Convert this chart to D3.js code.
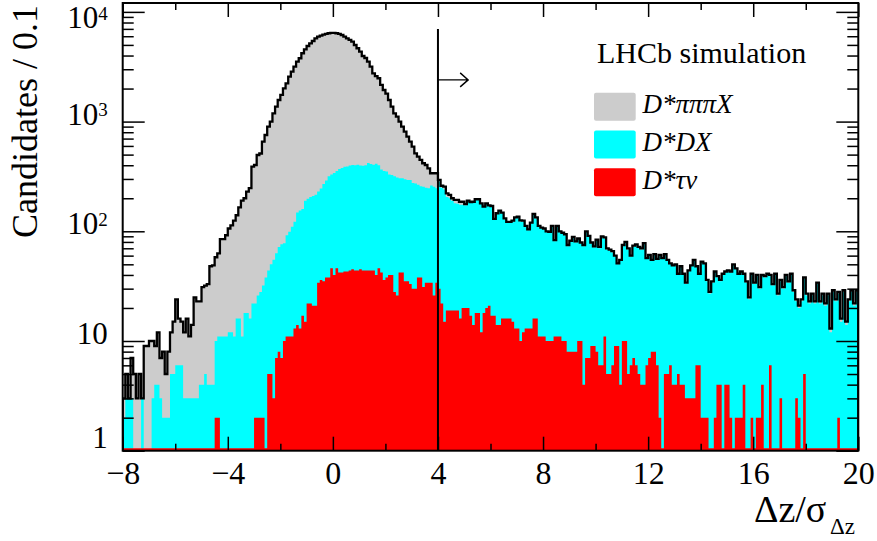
<!DOCTYPE html>
<html>
<head>
<meta charset="utf-8">
<script src="https://d3js.org/d3.v7.min.js"></script>
<style>
  body { margin: 0; background: #fff; }
  svg { display: block; font-family: "Liberation Serif", "Times New Roman", serif; }
</style>
</head>
<body>
<svg></svg>
<script>
// 280 bins of width 0.1 from -8 to 20. Values are the stacked heights:
// total = everything (grey + black outline), cyanTop = D*DX on top of D*tau nu, tauTop = D*tau nu
let xMin = -8
let xMax = 20
let binWidth = 0.1

let total = [
  3,5,3,7,5,3,5,3,9,9,10,10,9,12,7,8,5,8,12,15,
  24,16,15,12,16,11,14,25,23,23,31,32,33,48,49,58,63,85,85,92,
  106,113,125,140,165,190,200,230,247,388,402,496,512,656,755,899,998,1190,1368,1574,
  1749,2011,2234,2566,2851,3164,3516,3777,4197,4560,4887,5172,5430,5745,5943,6068,6197,6290,6385,6425,
  6425,6385,6290,6155,5943,5745,5546,5350,4990,4659,4338,3963,3800,3516,3164,2755,2600,2483,2157,1941,
  1800,1574,1368,1190,1109,998,899,809,728,656,591,514,479,447,417,402,375,338,338,338,
  294,260,255,222,215,200,193,193,186,186,177,190,185,186,196,196,180,168,180,172,
  170,130,146,154,148,131,122,122,125,134,136,126,125,112,104,120,144,134,112,108,
  106,100,99,112,83,112,100,97,94,75,82,89,81,86,79,75,100,91,79,73,
  84,72,90,88,70,68,66,60,51,55,75,80,70,60,74,76,72,70,78,57,
  61,55,62,56,61,57,62,55,51,49,50,41,48,41,34,44,49,55,48,41,
  53,51,36,28,35,43,39,36,41,43,44,43,50,46,41,43,41,35,25,41,
  34,40,31,40,39,41,40,33,41,27,36,31,40,35,41,29,24,21,24,38,
  27,23,27,23,34,23,27,22,27,13,29,24,28,16,29,15,24,29,22,29
]

let cyanTop = [
  2,3,3,3,1,1,1,3,1,1,1,3,4,4,3,2,2,2,5,5,
  6,6,6,3,3,3,3,3,3,4,4,5,4,4,4,10,11,11,11,11,
  12,12,11,16,16,11,18,18,16,22,22,26,28,32,38,44,50,55,63,72,
  76,78,92,99,110,122,148,155,160,190,198,205,210,215,230,245,270,290,318,330,
  340,355,370,378,388,390,398,402,400,405,398,395,400,420,410,405,412,400,365,355,
  350,330,326,318,310,304,304,298,294,294,276,272,265,258,255,250,247,262,255,247,
  285,250,240,205,200,190,180,178,175,175,172,188,182,184,194,194,178,166,178,170,
  168,128,143,151,145,128,120,120,122,131,133,123,122,110,102,118,141,131,110,106,
  104,98,97,110,81,110,98,95,92,73,80,87,79,84,77,73,98,89,77,71,
  82,70,88,86,68,66,64,59,50,54,73,78,68,59,72,74,70,68,76,56,
  60,54,61,55,60,56,61,54,50,48,49,40,47,40,33,43,48,54,47,40,
  52,50,35,27,34,42,38,35,40,42,43,42,49,45,40,42,40,34,24,40,
  33,39,30,39,38,40,39,32,40,26,35,30,39,34,40,28,23,20,23,37,
  26,22,26,22,33,22,26,21,26,12,28,23,27,15,28,14,23,28,21,28
]

let tauTop = [
  0,0,0,0,0,0,0,0,0,0,0,0,0,0,0,0,0,0,0,0,
  0,0,0,0,0,0,0,0,0,0,0,0,0,0,0,2,2,0,0,0,
  0,0,0,0,0,0,0,0,0,0,2,2,2,2,0,5,5,3,7,8,
  7,10,11,11,11,13,14,13,17,15,22,22,21,21,34,36,35,38,38,46,
  40,46,42,42,43,43,44,45,44,44,45,44,44,44,44,44,40,46,42,36,
  38,40,40,28,26,42,42,35,35,33,30,30,38,38,31,34,34,34,26,34,
  30,22,15,19,19,19,19,19,16,20,20,20,17,14,18,18,12,18,20,21,
  17,17,14,14,16,16,16,16,15,13,13,10,12,13,13,13,16,16,11,11,
  11,10,10,10,11,11,11,10,10,8,8,8,8,10,10,4,7,7,9,9,
  8,6,6,11,5,5,6,9,9,4,10,10,5,6,7,6,5,4,4,6,
  7,8,8,6,2,0,5,5,6,4,4,5,4,4,3,3,3,3,6,6,
  2,2,2,0,0,2,4,4,0,4,4,2,0,2,2,2,4,0,0,2,
  0,2,2,4,0,0,6,0,0,0,3,0,0,0,0,0,3,2,0,5,
  0,0,0,0,0,0,0,0,0,0,0,0,2,0,0,0,0,0,0,0
]

let xTicks = [-8, -4, 0, 4, 8, 12, 16, 20]
let xMinorTicks = [-6, -2, 2, 6, 10, 14, 18]
let yDecades = [1, 10, 100, 1000, 10000]
let yLabels = [
  { value: 1, base: "1", exp: "" },
  { value: 10, base: "10", exp: "" },
  { value: 100, base: "10", exp: "2" },
  { value: 1000, base: "10", exp: "3" },
  { value: 10000, base: "10", exp: "4" }
]
let yMax = 12050

let legendItems = [
  { label: "D*πππX", color: "#cccccc" },
  { label: "D*DX", color: "#00ffff" },
  { label: "D*τν", color: "#ff0000" }
]

// selection cut drawn on the plot
let cutValue = 4
let cutTop = 7000
let arrowLevel = 2400
let arrowEnd = 5.15

let width = 877
let height = 541
let plot = { left: 122.7, right: 858.3, top: 3, bottom: 450.7 }

let xScale
let yScale

let svg = d3.select("svg")

let drawCanvas = () => {
  svg.attr("width", width)
     .attr("height", height)
  svg.append("clipPath")
     .attr("id", "frame")
     .append("rect")
     .attr("x", plot.left)
     .attr("y", plot.top)
     .attr("width", plot.right - plot.left)
     .attr("height", plot.bottom - plot.top)
}

let generateScales = () => {
  xScale = d3.scaleLinear()
             .domain([xMin, xMax])
             .range([plot.left, plot.right])
  yScale = d3.scaleLog()
             .domain([1, yMax])
             .range([plot.bottom, plot.top])
             .clamp(true)
}

// bin left edges + closing point at the right edge, for step curves
let stepPoints = values => {
  let pts = values.map((v, i) => ({ x: xMin + i * binWidth, v: v }))
  pts.push({ x: xMax, v: values[values.length - 1] })
  return pts
}

let drawHistograms = () => {
  let area = d3.area()
               .x(d => xScale(d.x))
               .y0(yScale(1))
               .y1(d => yScale(Math.max(d.v, 1)))
               .curve(d3.curveStepAfter)

  let g = svg.append("g").attr("clip-path", "url(#frame)")

  g.append("path").attr("d", area(stepPoints(total))).attr("fill", "#cccccc")
  g.append("path").attr("d", area(stepPoints(cyanTop))).attr("fill", "#00ffff")
  g.append("path").attr("d", area(stepPoints(tauTop))).attr("fill", "#ff0000")

  // the red histogram's empty bins sit on the floor as a thin red line
  g.append("line")
   .attr("x1", xScale(xMin))
   .attr("x2", xScale(xMax))
   .attr("y1", yScale(1) - 1.6)
   .attr("y2", yScale(1) - 1.6)
   .attr("stroke", "#ff0000")
   .attr("stroke-width", 1.6)

  let line = d3.line()
               .x(d => xScale(d.x))
               .y(d => yScale(Math.max(d.v, 1)))
               .curve(d3.curveStepAfter)
  let outline = [{ x: xMin, v: 1 }].concat(stepPoints(total), [{ x: xMax, v: 1 }])
  g.append("path")
   .attr("d", line(outline))
   .attr("fill", "none")
   .attr("stroke", "black")
   .attr("stroke-width", 2.3)
}

let styleAxis = (g, fontSize) => {
  g.attr("font-family", "'Liberation Serif', 'Times New Roman', serif")
   .attr("font-size", fontSize)
  g.select(".domain").remove()
  g.selectAll(".tick line").attr("stroke-width", 1.5)
}

let drawAxes = () => {
  let xAxis = d3.axisBottom(xScale)
                .tickValues(xTicks)
                .tickSize(-14)
                .tickSizeOuter(0)
                .tickPadding(10.5)
                .tickFormat(d3.format("d"))
  svg.append("g")
     .attr("transform", "translate(0, " + plot.bottom + ")")
     .call(xAxis)
     .call(g => styleAxis(g, 32))

  svg.append("g")
     .attr("transform", "translate(0, " + plot.bottom + ")")
     .call(d3.axisBottom(xScale).tickValues(xMinorTicks).tickSize(-7).tickFormat(""))
     .call(g => styleAxis(g, 10))

  svg.append("g")
     .attr("transform", "translate(0, " + plot.top + ")")
     .call(d3.axisTop(xScale).tickValues(xTicks).tickSize(-14).tickFormat(""))
     .call(g => styleAxis(g, 10))
  svg.append("g")
     .attr("transform", "translate(0, " + plot.top + ")")
     .call(d3.axisTop(xScale).tickValues(xMinorTicks).tickSize(-7).tickFormat(""))
     .call(g => styleAxis(g, 10))

  let yMinor = []
  yDecades.forEach(d => {
    for (let k = 2; k <= 9; k++) {
      if (d * k < yMax) yMinor.push(d * k)
    }
  })

  svg.append("g")
     .attr("transform", "translate(" + plot.left + ", 0)")
     .call(d3.axisLeft(yScale).tickValues(yDecades).tickSize(-22).tickFormat(""))
     .call(g => styleAxis(g, 10))
  svg.append("g")
     .attr("transform", "translate(" + plot.left + ", 0)")
     .call(d3.axisLeft(yScale).tickValues(yMinor).tickSize(-11).tickFormat(""))
     .call(g => styleAxis(g, 10))
  svg.append("g")
     .attr("transform", "translate(" + plot.right + ", 0)")
     .call(d3.axisRight(yScale).tickValues(yDecades).tickSize(-22).tickFormat(""))
     .call(g => styleAxis(g, 10))
  svg.append("g")
     .attr("transform", "translate(" + plot.right + ", 0)")
     .call(d3.axisRight(yScale).tickValues(yMinor).tickSize(-11).tickFormat(""))
     .call(g => styleAxis(g, 10))

  // log labels, 10 with a raised exponent; the top one is kept inside the page
  let labels = svg.selectAll(".ylabel")
                  .data(yLabels)
                  .enter()
                  .append("text")
                  .attr("class", "ylabel")
                  .attr("x", plot.left - 15)
                  .attr("y", d => Math.min(Math.max(yScale(d.value) + 3, 28), 448))
                  .attr("text-anchor", "end")
                  .attr("font-size", 31)
                  .text(d => d.base)
  labels.filter(d => d.exp !== "")
        .append("tspan")
        .attr("dy", -8.5)
        .attr("font-size", 19)
        .text(d => d.exp)

  svg.append("rect")
     .attr("x", plot.left)
     .attr("y", plot.top)
     .attr("width", plot.right - plot.left)
     .attr("height", plot.bottom - plot.top)
     .attr("fill", "none")
     .attr("stroke", "black")
     .attr("stroke-width", 2)

  // axis titles
  svg.append("text")
     .attr("transform", "translate(37, 238) rotate(-90)")
     .attr("font-size", 36)
     .text("Candidates / 0.1")

  svg.append("text")
     .attr("x", 754)
     .attr("y", 521.7)
     .attr("font-size", 38)
     .text("Δz/σ")
  svg.append("text")
     .attr("x", 830)
     .attr("y", 534)
     .attr("font-size", 23)
     .text("Δz")
}

let drawCut = () => {
  let cx = xScale(cutValue)
  svg.append("line")
     .attr("x1", cx).attr("x2", cx)
     .attr("y1", yScale(cutTop)).attr("y2", yScale(1))
     .attr("stroke", "black")
     .attr("stroke-width", 2)

  let ay = yScale(arrowLevel)
  let ax = xScale(arrowEnd)
  svg.append("path")
     .attr("d", "M" + cx + "," + ay + "H" + ax +
                "M" + (ax - 8) + "," + (ay - 7) + "L" + ax + "," + ay + "L" + (ax - 8) + "," + (ay + 7))
     .attr("fill", "none")
     .attr("stroke", "black")
     .attr("stroke-width", 1.4)
}

let drawLegend = () => {
  svg.append("text")
     .attr("x", 597)
     .attr("y", 63.3)
     .attr("font-size", 30)
     .text("LHCb simulation")

  let rows = svg.selectAll(".legend")
                .data(legendItems)
                .enter()
                .append("g")
                .attr("class", "legend")
                .attr("transform", (d, i) => "translate(594, " + (92.7 + i * 37.8) + ")")
  rows.append("rect")
      .attr("width", 41.7)
      .attr("height", 28)
      .attr("rx", 2)
      .attr("fill", d => d.color)
  rows.append("text")
      .attr("x", 48.5)
      .attr("y", 20.6)
      .attr("font-size", 27)
      .attr("font-style", "italic")
      .text(d => d.label)
}

drawCanvas()
generateScales()
drawHistograms()
drawAxes()
drawCut()
drawLegend()
</script>
</body>
</html>
